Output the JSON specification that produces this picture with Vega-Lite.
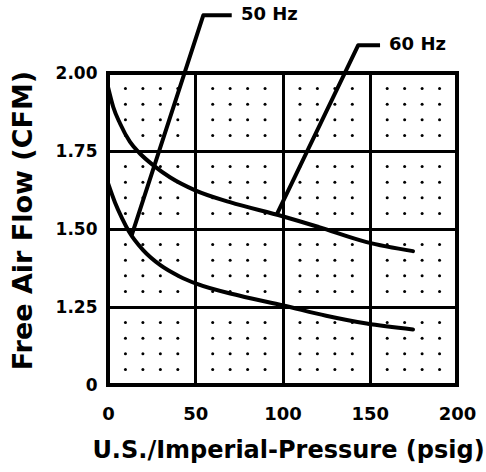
{
  "$schema": "https://vega.github.io/schema/vega-lite/v6.json",
  "width": 349,
  "height": 312,
  "autosize": {"type": "none"},
  "padding": {"left": 108, "top": 73, "right": 29, "bottom": 87},
  "background": "white",
  "config": {
    "view": {"stroke": "black", "strokeWidth": 4},
    "font": "DejaVu Sans",
    "axis": {
      "grid": true,
      "gridColor": "black",
      "gridWidth": 3,
      "gridOpacity": 1,
      "domain": false,
      "ticks": false,
      "labelFlush": false,
      "labelFont": "DejaVu Sans",
      "labelFontWeight": "bold",
      "labelColor": "black",
      "titleFont": "DejaVu Sans",
      "titleFontWeight": "bold",
      "titleColor": "black"
    }
  },
  "datasets": {
    "dots": [
      {"y": 1.05, "xs": [10,20,30,40,60,70,80,90,110,120,130,140,160,170,180,190]},
      {"y": 1.10, "xs": [10,20,30,40,60,70,80,90,110,120,130,140,160,170,180,190]},
      {"y": 1.15, "xs": [10,20,30,40,60,70,80,90,110,120,130,140,160,170,180,190]},
      {"y": 1.20, "xs": [10,20,30,40,60,70,80,90,110,120,130,140,160,170,180,190]},
      {"y": 1.30, "xs": [10,20,30,40,60,70,80,90,110,120,130,140,160,170,180,190]},
      {"y": 1.35, "xs": [10,20,30,40,60,70,80,90,110,120,130,140,160,170,180,190]},
      {"y": 1.40, "xs": [10,20,30,40,60,70,80,90,110,120,130,140,160,170,180,190]},
      {"y": 1.45, "xs": [10,20,30,40,60,70,80,90,110,120,130,140,160,170,180,190]},
      {"y": 1.55, "xs": [10,20,30,40,60,70,80,90,110,120,130,140,160,170,180,190]},
      {"y": 1.60, "xs": [10,20,30,40,60,70,80,90,110,120,130,140,160,170,180,190]},
      {"y": 1.65, "xs": [10,20,30,40,60,70,80,90,110,120,130,140,160,170,180,190]},
      {"y": 1.70, "xs": [10,20,30,40,60,70,80,90,110,120,130,140,160,170,180,190]},
      {"y": 1.80, "xs": [10,20,30,40,60,70,80,90,110,120,130,140,160,170,180,190]},
      {"y": 1.85, "xs": [10,20,30,40,60,70,80,90,110,120,130,140,160,170,180,190]},
      {"y": 1.90, "xs": [10,20,30,40,60,70,80,90,110,120,130,140,160,170,180,190]},
      {"y": 1.95, "xs": [10,20,30,40,60,70,80,90,110,120,130,140,160,170,180,190]}
    ],
    "curves": [
      {"s": "60 Hz", "x": 0, "y": 1.955},
      {"s": "60 Hz", "x": 3, "y": 1.891},
      {"s": "60 Hz", "x": 6.9, "y": 1.838},
      {"s": "60 Hz", "x": 12.6, "y": 1.779},
      {"s": "60 Hz", "x": 18.3, "y": 1.742},
      {"s": "60 Hz", "x": 26, "y": 1.704},
      {"s": "60 Hz", "x": 35.5, "y": 1.666},
      {"s": "60 Hz", "x": 50, "y": 1.624},
      {"s": "60 Hz", "x": 69.9, "y": 1.586},
      {"s": "60 Hz", "x": 100, "y": 1.541},
      {"s": "60 Hz", "x": 120.9, "y": 1.506},
      {"s": "60 Hz", "x": 148.2, "y": 1.458},
      {"s": "60 Hz", "x": 174.8, "y": 1.429},
      {"s": "50 Hz", "x": 0, "y": 1.647},
      {"s": "50 Hz", "x": 4, "y": 1.585},
      {"s": "50 Hz", "x": 8, "y": 1.535},
      {"s": "50 Hz", "x": 12, "y": 1.492},
      {"s": "50 Hz", "x": 20, "y": 1.433},
      {"s": "50 Hz", "x": 30, "y": 1.384},
      {"s": "50 Hz", "x": 41, "y": 1.348},
      {"s": "50 Hz", "x": 51, "y": 1.324},
      {"s": "50 Hz", "x": 75.6, "y": 1.286},
      {"s": "50 Hz", "x": 100.5, "y": 1.255},
      {"s": "50 Hz", "x": 125, "y": 1.222},
      {"s": "50 Hz", "x": 148.2, "y": 1.197},
      {"s": "50 Hz", "x": 174.8, "y": 1.178}
    ],
    "leaders": [
      {"s": "50 Hz", "x": 13.6, "y": 1.48},
      {"s": "50 Hz", "x": 54.6, "y": 2.185},
      {"s": "50 Hz", "x": 70.9, "y": 2.185},
      {"s": "60 Hz", "x": 96.8, "y": 1.548},
      {"s": "60 Hz", "x": 143.4, "y": 2.089},
      {"s": "60 Hz", "x": 155.9, "y": 2.089}
    ],
    "labels": [
      {"s": "50 Hz", "x": 75.6, "y": 2.185},
      {"s": "60 Hz", "x": 160.5, "y": 2.089}
    ]
  },
  "encoding": {
    "x": {
      "field": "x",
      "type": "quantitative",
      "scale": {"domain": [0, 200], "nice": false, "zero": false},
      "axis": {
        "values": [0, 50, 100, 150, 200],
        "labelFontSize": 18,
        "labelPadding": 20,
        "title": "U.S./Imperial-Pressure (psig)",
        "titleFontSize": 24,
        "titleX": 180,
        "titleY": 72,
        "titleBaseline": "alphabetic"
      }
    },
    "y": {
      "field": "y",
      "type": "quantitative",
      "scale": {"domain": [1, 2], "nice": false, "zero": false},
      "axis": {
        "values": [1, 1.25, 1.5, 1.75, 2],
        "labelExpr": "datum.value == 1 ? '0' : format(datum.value, '.2f')",
        "labelFontSize": 17,
        "labelPadding": 11,
        "title": "Free Air Flow (CFM)",
        "titleFontSize": 27,
        "titleAngle": -90,
        "titleX": -85,
        "titleY": 147,
        "titleAlign": "center",
        "titleBaseline": "middle"
      }
    }
  },
  "layer": [
    {
      "data": {"name": "dots"},
      "transform": [{"flatten": ["xs"], "as": ["x"]}],
      "mark": {"type": "point", "filled": true, "color": "black", "size": 9, "opacity": 1}
    },
    {
      "data": {"name": "curves"},
      "mark": {"type": "line", "color": "black", "strokeWidth": 4, "interpolate": "monotone", "strokeCap": "round"},
      "encoding": {"detail": {"field": "s"}}
    },
    {
      "data": {"name": "leaders"},
      "mark": {"type": "line", "color": "black", "strokeWidth": 4, "clip": false, "strokeJoin": "round"},
      "encoding": {"detail": {"field": "s"}}
    },
    {
      "data": {"name": "labels"},
      "mark": {"type": "text", "align": "left", "baseline": "middle", "font": "DejaVu Sans", "fontWeight": "bold", "fontSize": 18, "color": "black", "dx": 1},
      "encoding": {"text": {"field": "s"}}
    }
  ]
}
